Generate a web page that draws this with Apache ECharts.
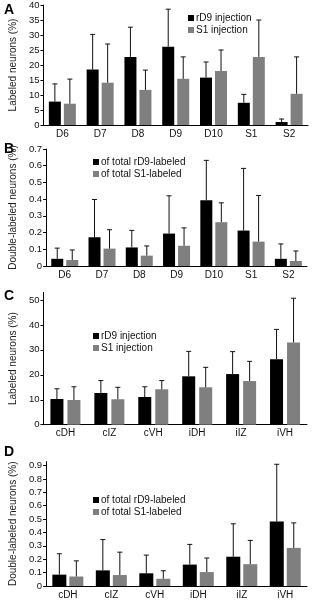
<!DOCTYPE html>
<html>
<head>
<meta charset="utf-8">
<script src="https://cdn.jsdelivr.net/npm/echarts@6/dist/echarts.min.js"></script>
<style>
  html, body { margin: 0; padding: 0; background: #fff; }
  #chart { width: 320px; height: 600px; }
</style>
</head>
<body>
<div id="chart"></div>
<script>
// categories
const segments = ['D6', 'D7', 'D8', 'D9', 'D10', 'S1', 'S2'];
const regions = ['cDH', 'cIZ', 'cVH', 'iDH', 'iIZ', 'iVH'];

// panel A: labeled neurons (%), mean and upper end of error bar
const rD9A = [7.8, 18.5, 22.7, 26.1, 15.8, 7.4, 1.0];
const rD9TopA = [13.7, 30.2, 32.6, 38.6, 21.0, 10.2, 2.0];
const s1A = [7.1, 14.1, 11.7, 15.4, 18.0, 22.7, 10.4];
const s1TopA = [15.3, 27.0, 18.3, 22.7, 25.0, 35.0, 22.7];

// panel B: double-labeled neurons (%)
const rD9B = [0.043, 0.172, 0.111, 0.194, 0.394, 0.212, 0.043];
const rD9TopB = [0.107, 0.398, 0.213, 0.42, 0.632, 0.584, 0.132];
const s1B = [0.036, 0.104, 0.062, 0.121, 0.262, 0.146, 0.03];
const s1TopB = [0.096, 0.217, 0.12, 0.228, 0.378, 0.422, 0.09];

// panel C: labeled neurons (%)
const rD9C = [10.3, 12.7, 11.1, 19.4, 20.3, 26.2];
const rD9TopC = [14.4, 17.7, 15.2, 29.4, 29.3, 38.2];
const s1C = [9.9, 10.2, 14.2, 15.0, 17.5, 33.0];
const s1TopC = [15.2, 15.0, 17.7, 23.0, 25.4, 50.7];

// panel D: double-labeled neurons (%)
const rD9D = [0.085, 0.117, 0.095, 0.16, 0.219, 0.482];
const rD9TopD = [0.241, 0.347, 0.231, 0.311, 0.465, 0.91];
const s1D = [0.071, 0.082, 0.054, 0.104, 0.163, 0.285];
const s1TopD = [0.188, 0.253, 0.114, 0.209, 0.341, 0.472];

const black = '#000000';
const gray = '#7f7f7f';
const font = 'Liberation Sans';

const chart = echarts.init(document.getElementById('chart'), null, {renderer: 'canvas'});

function errRender(offset) {
  return function (params, api) {
    const p0 = api.coord([api.value(0), api.value(1)]);
    const p1 = api.coord([api.value(0), api.value(2)]);
    const x = p0[0] + offset;
    const st = {stroke: '#111', lineWidth: 1};
    return {
      type: 'group',
      children: [
        {type: 'line', shape: {x1: x, y1: p0[1], x2: x, y2: p1[1]}, style: st},
        {type: 'line', shape: {x1: x - 2.5, y1: p1[1], x2: x + 2.5, y2: p1[1]}, style: st}
      ]
    };
  };
}

function pairs(vals, tops) {
  return vals.map((v, i) => [i, v, tops[i]]);
}

const panels = [
  {grid: {left: 41, right: 12, top: 5, height: 120}, cats: segments, max: 40, interval: 5,
   name: 'Labeled neurons (%)', names: ['rD9 injection', 'S1 injection'],
   a: rD9A, aTop: rD9TopA, b: s1A, bTop: s1TopA, bw: 12, gap: 3,
   legend: {left: 183, top: 8}},
  {grid: {left: 40, right: 13, top: 149, height: 117}, cats: segments, max: 0.7, interval: 0.1,
   name: 'Double-labeled neurons (%)', names: ['of total rD9-labeled', 'of total S1-labeled'],
   a: rD9B, aTop: rD9TopB, b: s1B, bTop: s1TopB, bw: 12, gap: 3,
   legend: {left: 88, top: 152}},
  {grid: {left: 39, right: 13, top: 292.5, height: 132.2}, cats: regions, max: 53, interval: 10,
   name: 'Labeled neurons (%)', names: ['rD9 injection', 'S1 injection'],
   a: rD9C, aTop: rD9TopC, b: s1C, bTop: s1TopC, bw: 13, gap: 4,
   legend: {left: 88, top: 326}},
  {grid: {left: 40, right: 13, top: 461.6, height: 127.4}, cats: regions, max: 0.93, interval: 0.1,
   name: 'Double-labeled neurons (%)', names: ['of total rD9-labeled', 'of total S1-labeled'],
   a: rD9D, aTop: rD9TopD, b: s1D, bTop: s1TopD, bw: 14, gap: 3,
   legend: {left: 88, top: 490}}
];

const axisLine = {show: true, lineStyle: {color: '#000', width: 1}};
const option = {
  animation: false,
  textStyle: {fontFamily: font},
  grid: [], xAxis: [], yAxis: [], series: [], legend: [],
  graphic: [
    {type: 'text', left: 4, top: 3, style: {text: 'A', font: 'bold 14px Liberation Sans', fill: '#000'}},
    {type: 'text', left: 4, top: 142, style: {text: 'B', font: 'bold 14px Liberation Sans', fill: '#000'}},
    {type: 'text', left: 4, top: 289, style: {text: 'C', font: 'bold 14px Liberation Sans', fill: '#000'}},
    {type: 'text', left: 4, top: 445, style: {text: 'D', font: 'bold 14px Liberation Sans', fill: '#000'}}
  ]
};

panels.forEach((p, k) => {
  const onTick = Math.abs(p.max / p.interval - Math.round(p.max / p.interval)) < 1e-6;
  option.grid.push(p.grid);
  option.xAxis.push({
    type: 'category', gridIndex: k, data: p.cats,
    axisLine: axisLine, axisTick: {show: false},
    axisLabel: {color: '#111', fontSize: 10, margin: 4, interval: 0}
  });
  option.yAxis.push({
    type: 'value', gridIndex: k, min: 0, max: p.max, interval: p.interval,
    name: p.name, nameLocation: 'middle', nameGap: 21,
    nameTextStyle: {color: '#222', fontSize: 10},
    axisLine: axisLine, axisTick: {show: true, length: 3, lineStyle: {color: '#000'}},
    axisLabel: {color: '#111', fontSize: 9.5, margin: 4, showMaxLabel: onTick},
    splitLine: {show: false}
  });
  const off = (p.bw + p.gap) / 2;
  option.series.push(
    {name: p.names[0], type: 'bar', xAxisIndex: k, yAxisIndex: k, data: p.a,
     barWidth: p.bw, barGap: (p.gap / p.bw * 100) + '%', itemStyle: {color: black}},
    {name: p.names[1], type: 'bar', xAxisIndex: k, yAxisIndex: k, data: p.b,
     barWidth: p.bw, barGap: (p.gap / p.bw * 100) + '%', itemStyle: {color: gray}},
    {type: 'custom', xAxisIndex: k, yAxisIndex: k, renderItem: errRender(-off),
     encode: {x: 0, y: [1, 2]}, data: pairs(p.a, p.aTop), z: 3},
    {type: 'custom', xAxisIndex: k, yAxisIndex: k, renderItem: errRender(off),
     encode: {x: 0, y: [1, 2]}, data: pairs(p.b, p.bTop), z: 3}
  );
  option.legend.push({
    left: p.legend.left, top: p.legend.top, orient: 'vertical',
    data: p.names, icon: 'rect', itemWidth: 6, itemHeight: 6, itemGap: 2,
    selectedMode: false,
    textStyle: {color: '#111', fontSize: 10, padding: [0, 0, 0, -3]}
  });
});

chart.setOption(option);
</script>
</body>
</html>
